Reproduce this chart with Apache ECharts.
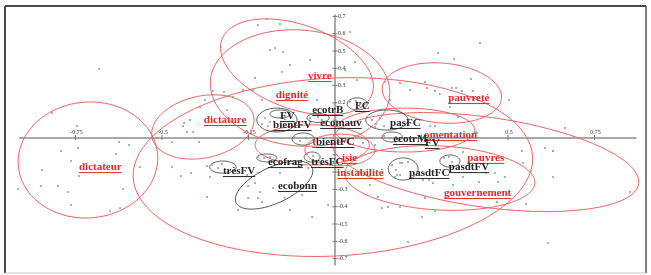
<!DOCTYPE html>
<html><head><meta charset="utf-8">
<script src="https://cdn.jsdelivr.net/npm/echarts@6/dist/echarts.min.js"></script>
<style>html,body{margin:0;padding:0;background:#fff}#c{width:651px;height:275px}</style>
</head><body><div id="c"></div>
<script>
// ---- axis ticks ----
const xTickValues = [-0.75, -0.5, -0.25, 0.25, 0.5, 0.75];
const xLabelValues = [-0.75, -0.5, -0.25, 0.5, 0.75];
const yTickValues = [0.7, 0.6, 0.5, 0.4, 0.3, 0.2, 0.1, -0.1, -0.2, -0.3, -0.4, -0.5, -0.6, -0.7];
const yLabelValues = [0.7, 0.6, 0.5, 0.4, 0.3, 0.2, -0.3, -0.4, -0.5, -0.6, -0.7];

// ---- words (labels) ----
const redWords = ['vivre','dignité','dictature','dictateur','pauvreté','omentation','pauvres','gouvernement','instabilité','isie','t'];
const redWordX = [-0.078,-0.171,-0.379,-0.740,0.327,0.257,0.382,0.315,0.006,0.020,-0.066];
const redWordY = [0.355,0.246,0.101,-0.171,0.228,0.014,-0.118,-0.321,-0.205,-0.118,-0.026];

const blackWords = ['FV','bientFV','ecotrB','ecomauv','FC','pasFC','ecotrM','FV','bientFC','ecofrag','trésFC','trèsFV','ecobonn','pasdtFC','pasdtFV'];
const blackWordX = [-0.159,-0.179,-0.066,-0.043,0.058,0.159,0.168,0.260,-0.055,-0.194,-0.069,-0.324,-0.165,0.214,0.329];
const blackWordY = [0.124,0.072,0.159,0.084,0.182,0.084,-0.009,-0.032,-0.026,-0.142,-0.142,-0.194,-0.280,-0.205,-0.171];

// ---- confidence ellipses: centre, half-widths (data units), tilt (deg) ----
const redEllCx  = [-0.714,-0.382,-0.110,-0.101,0.309,0.434,0.303,-0.006,0.202,-0.066,0.014];
const redEllCy  = [-0.130,0.061,0.408,0.286,0.257,-0.142,-0.234,-0.171,0.043,-0.043,-0.072];
const redEllRx  = [0.202,0.150,0.231,0.260,0.173,0.448,0.275,0.578,0.202,0.165,0.101];
const redEllRy  = [0.335,0.179,0.243,0.335,0.173,0.260,0.185,0.514,0.127,0.116,0.092];
const redEllRot = [-5,-12,20,5,5,8,3,-3,0,0,0];

const grayEllCx  = [-0.168,-0.159,0.064,-0.049,0.150,0.165,0.197,0.332,-0.324,-0.197,-0.066,-0.176,-0.092];
const grayEllCy  = [0.101,0.136,0.194,0.113,0.101,0.003,-0.182,-0.136,-0.171,-0.118,-0.113,-0.275,-0.009];
const grayEllRx  = [0.058,0.029,0.029,0.032,0.061,0.029,0.043,0.029,0.038,0.029,0.023,0.121,0.032];
const grayEllRy  = [0.069,0.023,0.035,0.026,0.058,0.029,0.064,0.035,0.035,0.023,0.029,0.104,0.035];
const grayEllRot = [0,0,0,0,0,0,0,0,0,0,0,-25,0];

// ---- individual points ----
const grayPtX = [-0.682,-0.746,-0.818,-0.390,-0.353,-0.624,-0.792,-0.743,-0.763,-0.633,-0.847,-0.740,-0.916,-0.850,-0.801,-0.772,-0.613,-0.621,-0.650,-0.471,-0.445,-0.370,-0.471,-0.393,-0.410,-0.197,-0.159,-0.223,-0.173,-0.150,-0.072,0.043,0.058,0.029,-0.153,-0.237,-0.321,-0.211,-0.376,-0.312,0.145,0.217,0.419,0.298,0.393,0.503,0.332,0.355,0.665,0.408,0.540,0.607,0.543,0.630,0.552,0.853,0.616,0.251,0.289,0.471,0.370,0.101,0.188,0.179,0.101,0.124,0.136,0.188,-0.020,-0.179,-0.231,-0.223,-0.251,-0.145,-0.095,-0.130,-0.159,-0.223,0.211,-0.361,-0.280,
  -0.202,-0.188,-0.194,0.107,0.118,0.130,0.165,0.176,0.188,0.043,0.061,-0.072,-0.049,0.142,0.159,0.315,0.329,-0.355,-0.338,-0.223,-0.205,-0.118,-0.101,-0.081,-0.251,-0.217];
const grayPtY = [0.396,0.066,0.142,0.176,0.269,-0.026,-0.078,-0.061,-0.136,-0.095,-0.188,-0.223,-0.298,-0.280,-0.280,-0.315,-0.298,-0.408,-0.425,-0.171,-0.223,-0.165,-0.026,-0.026,0.032,0.685,0.656,0.650,0.517,0.494,0.448,0.610,0.436,0.390,0.379,0.275,0.263,0.217,0.217,0.159,0.321,0.275,0.546,0.488,0.338,0.217,0.176,0.118,0.055,0.032,-0.078,-0.061,-0.147,-0.228,-0.384,-0.315,-0.610,-0.460,-0.425,-0.257,-0.228,-0.003,-0.147,-0.217,-0.275,-0.344,-0.408,-0.402,-0.390,-0.292,-0.263,-0.350,-0.350,-0.350,-0.332,-0.419,-0.205,-0.205,-0.604,-0.228,-0.419,
  0.113,0.090,0.066,0.101,0.078,0.113,-0.159,-0.188,-0.217,0.205,0.211,0.113,0.118,0.009,-0.003,-0.118,-0.113,-0.159,-0.176,-0.113,-0.118,0.003,-0.020,-0.095,-0.280,-0.315];
const tealPtX = [-0.595,-0.763,-0.436,-0.439,-0.419,-0.428,-0.564,-0.416,-0.130,-0.188,-0.231,0.064,-0.266,-0.295,-0.052,0.159,0.188,0.344,0.260,0.266,0.289,0.338,0.350,0.367,0.399,0.303,0.275,0.289,0.251,0.370,0.410,0.630,0.468,0.260,0.341,0.416,0.491,0.462,0.436,0.272,0.283,0.254,0.116,0.081,0.211,0.153,-0.066,-0.078,-0.254,-0.211,-0.370,
  -0.145,-0.211,0.116,0.142,0.173,0.194,0.072,-0.038,0.176,0.338,-0.327,-0.188,-0.084,-0.064,-0.116];
const tealPtY = [-0.043,-0.390,0.084,0.066,0.101,0.032,-0.171,-0.205,0.419,0.506,0.344,0.332,0.275,0.234,0.217,0.217,0.315,0.454,0.321,0.286,0.269,0.286,0.286,0.269,0.269,0.251,0.066,0.066,0.101,-0.084,0.026,-0.078,-0.373,-0.350,-0.275,-0.257,-0.228,-0.205,-0.205,-0.246,-0.263,-0.246,-0.043,-0.032,-0.142,-0.402,-0.460,-0.176,-0.217,-0.373,-0.344,
  0.107,0.078,0.061,0.066,-0.228,-0.147,0.194,0.101,0.003,-0.142,-0.153,-0.113,-0.003,-0.107,-0.257];

// ---------------------------------------------------------------
const FONT = '"Liberation Serif", "DejaVu Serif", serif';
const mctx = document.createElement('canvas').getContext('2d');
function textWidth(t){ mctx.font = 'bold 11px ' + FONT; return mctx.measureText(t).width; }

function ellipseSeries(cx, cy, rx, ry, rot, color, width){
  return {
    type:'custom', coordinateSystem:'cartesian2d', clip:false, silent:true, z:2,
    data: cx.map((v,i)=>[v, cy[i], rx[i], ry[i], rot[i]]),
    encode:{x:0, y:1},
    renderItem(params, api){
      const c = api.coord([api.value(0), api.value(1)]);
      const s = api.size([api.value(2), api.value(3)]);
      const th = api.value(4) * Math.PI / 180;
      const pts = [];
      for (let k = 0; k < 90; k++){
        const t = k / 90 * 2 * Math.PI;
        const ex = s[0] * Math.cos(t), ey = s[1] * Math.sin(t);
        pts.push([c[0] + ex*Math.cos(th) - ey*Math.sin(th), c[1] + ex*Math.sin(th) + ey*Math.cos(th)]);
      }
      return {type:'polygon', shape:{points:pts}, style:{fill:null, stroke:color, lineWidth:width}};
    }
  };
}

function wordSeries(words, xs, ys, color, z){
  return {
    type:'custom', coordinateSystem:'cartesian2d', clip:false, silent:true, z:z,
    data: xs.map((v,i)=>[v, ys[i], i]),
    encode:{x:0, y:1},
    renderItem(params, api){
      const p = api.coord([api.value(0), api.value(1)]);
      const txt = words[api.value(2)];
      const w = textWidth(txt);
      return {type:'group', children:[
        {type:'text', x:p[0], y:p[1], style:{text:txt, fill:color, fontFamily:FONT, fontWeight:'bold', fontSize:11, align:'left', verticalAlign:'middle'}},
        {type:'line', shape:{x1:p[0], y1:p[1]+5.5, x2:p[0]+w, y2:p[1]+5.5}, style:{stroke:color, lineWidth:1}}
      ]};
    }
  };
}

// axis tick marks and tick labels placed on the zero lines
function tickSeries(values, isX, withLabel){
  return {
    type:'custom', coordinateSystem:'cartesian2d', clip:false, silent:true, z:1,
    data: values.map(v => isX ? [v, 0] : [0, v]),
    encode:{x:0, y:1},
    renderItem(params, api){
      const p = api.coord([api.value(0), api.value(1)]);
      const v = isX ? api.value(0) : api.value(1);
      const children = [];
      if (!withLabel) {
        children.push(isX
          ? {type:'line', shape:{x1:p[0], y1:p[1]-2.5, x2:p[0], y2:p[1]+2.5}, style:{stroke:'#777', lineWidth:1}}
          : {type:'line', shape:{x1:p[0]-2.5, y1:p[1], x2:p[0]+2.5, y2:p[1]}, style:{stroke:'#777', lineWidth:1}});
      } else {
        children.push(isX
          ? {type:'text', x:p[0]+1, y:p[1]-2, style:{text:String(v), fill:'#333', fontFamily:FONT, fontSize:6, align:'center', verticalAlign:'bottom'}}
          : {type:'text', x:p[0]+3, y:p[1], style:{text:String(v), fill:'#333', fontFamily:FONT, fontSize:6, align:'left', verticalAlign:'middle'}});
      }
      return {type:'group', children};
    }
  };
}

const chart = echarts.init(document.getElementById('c'), null, {renderer:'canvas'});
chart.setOption({
  animation:false,
  backgroundColor:'#fff',
  grid:{left:20, right:15, top:15, bottom:10, containLabel:false},
  xAxis:{type:'value', min:-0.9104, max:0.8699,
    axisLine:{onZero:true, lineStyle:{color:'#8d8d8d', width:1.5}},
    splitLine:{show:false}, axisTick:{show:false}, axisLabel:{show:false}
  },
  yAxis:{type:'value', min:-0.7370, max:0.7081,
    axisLine:{onZero:true, lineStyle:{color:'#8d8d8d', width:1.5}},
    splitLine:{show:false}, axisTick:{show:false}, axisLabel:{show:false}
  },
  graphic:[
    {type:'line', shape:{x1:5, y1:6, x2:646, y2:6}, style:{stroke:'#4a4a4a', lineWidth:2}, z:100},
    {type:'line', shape:{x1:5, y1:6, x2:5, y2:273}, style:{stroke:'#4a4a4a', lineWidth:2}, z:100},
    {type:'line', shape:{x1:646, y1:6, x2:646, y2:273}, style:{stroke:'#555', lineWidth:1.5}, z:100},
    {type:'line', shape:{x1:5, y1:273, x2:646, y2:273}, style:{stroke:'#c8c8c8', lineWidth:1}, z:100}
  ],
  series:[
    tickSeries(xTickValues, true, false),
    tickSeries(yTickValues, false, false),
    tickSeries(xLabelValues, true, true),
    tickSeries(yLabelValues, false, true),
    ellipseSeries(redEllCx, redEllCy, redEllRx, redEllRy, redEllRot, '#ef6464', 1),
    ellipseSeries(grayEllCx, grayEllCy, grayEllRx, grayEllRy, grayEllRot, '#555', 1),
    {type:'scatter', data:grayPtX.map((v,i)=>[v, grayPtY[i]]), symbol:'rect', symbolSize:2, itemStyle:{color:'#9a9a9a'}, clip:false, silent:true, z:3},
    {type:'scatter', data:tealPtX.map((v,i)=>[v, tealPtY[i]]), symbol:'rect', symbolSize:2, itemStyle:{color:'#5fae96'}, clip:false, silent:true, z:3},
    wordSeries(redWords, redWordX, redWordY, '#e5292c', 5),
    wordSeries(blackWords, blackWordX, blackWordY, '#262626', 6)
  ]
});
</script></body></html>
